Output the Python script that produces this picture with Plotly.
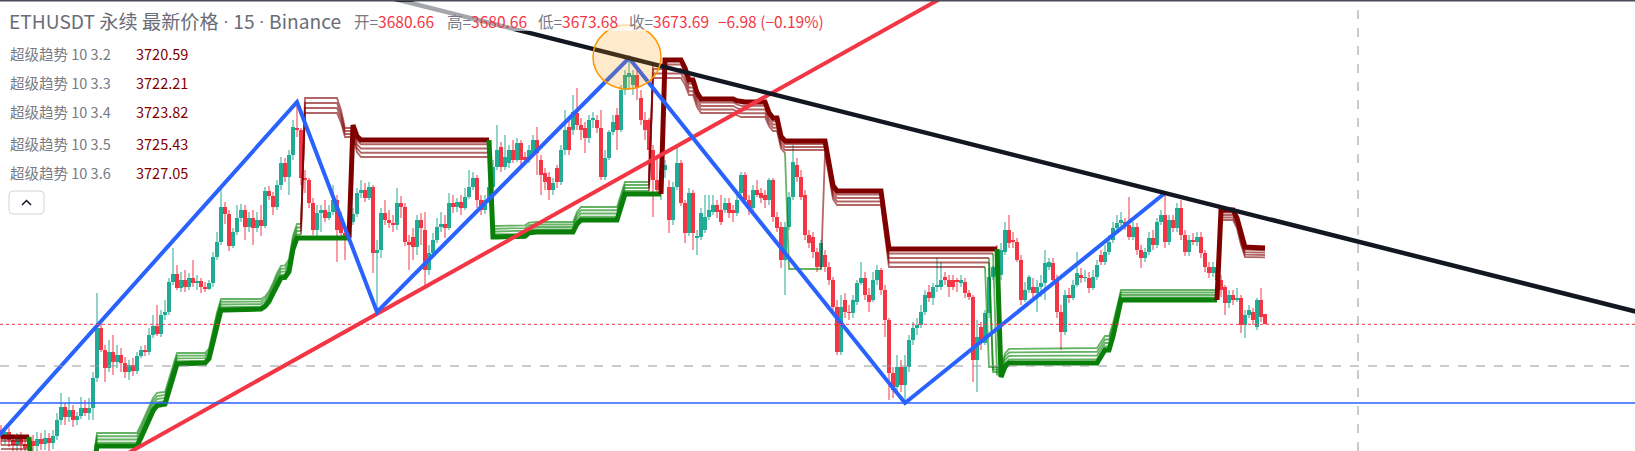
import numpy as np
import plotly.graph_objects as go

W, H = 1635, 451
X_RANGE = [-0.25, 408.5]
Y_RANGE = [3585.0, 3900.7]

# ---------------- candle data (15m ETHUSDT) ----------------
open_ = [
    3599.7, 3594.1, 3598.3, 3592.7, 3589.2, 3594.8, 3589.9, 3587.1, 3592.0, 3588.5,
    3593.4, 3589.9, 3594.1, 3590.6, 3595.5, 3606.7, 3615.8, 3608.8, 3613.7, 3606.7,
    3609.5, 3615.1, 3611.6, 3615.1, 3636.1, 3671.1, 3655.7, 3643.1, 3654.3, 3647.3,
    3652.2, 3646.6, 3640.3, 3645.2, 3641.0, 3651.5, 3655.7, 3654.3, 3666.2, 3672.5,
    3666.9, 3680.2, 3682.3, 3703.3, 3708.9, 3699.1, 3704.7, 3699.8, 3706.1, 3702.6,
    3704.0, 3699.8, 3698.4, 3702.6, 3720.8, 3731.3, 3755.8, 3750.9, 3728.5, 3738.3,
    3748.1, 3753.7, 3741.8, 3748.1, 3741.1, 3746.7, 3742.5, 3767.0, 3763.5, 3755.8,
    3771.2, 3786.6, 3776.8, 3792.2, 3811.1, 3809.7, 3776.1, 3774.7, 3758.6, 3739.7,
    3751.6, 3753.7, 3748.1, 3752.3, 3760.7, 3748.8, 3737.6, 3735.5, 3745.3, 3750.9,
    3765.6, 3767.7, 3762.1, 3769.8, 3723.6, 3725.7, 3751.6, 3746.7, 3744.6, 3743.2,
    3758.6, 3755.8, 3731.3, 3734.8, 3727.8, 3746.7, 3739.7, 3711.7, 3723.6, 3732.7,
    3741.8, 3743.9, 3741.1, 3758.6, 3755.8, 3759.3, 3755.1, 3762.8, 3769.8, 3776.1,
    3760.7, 3753.7, 3760.7, 3769.8, 3783.8, 3797.8, 3783.8, 3786.6, 3795.7, 3788.7,
    3800.6, 3790.8, 3788.7, 3793.6, 3802.7, 3788.7, 3779.6, 3776.8, 3767.7, 3783.1,
    3773.3, 3795.7, 3811.8, 3809.7, 3821.6, 3813.2, 3811.1, 3804.1, 3816.7, 3816.7,
    3811.1, 3776.8, 3790.1, 3808.3, 3820.2, 3809.7, 3837.7, 3846.8, 3841.2, 3848.2,
    3832.1, 3816.7, 3816.7, 3795.7, 3774.7, 3767.7, 3781.7, 3769.8, 3746.7, 3769.8,
    3786.6, 3758.6, 3737.6, 3765.6, 3734.1, 3734.8, 3739.7, 3748.8, 3752.3, 3757.2,
    3753.7, 3753.7, 3758.6, 3753.7, 3751.6, 3765.6, 3778.2, 3760.7, 3755.1, 3767.7,
    3765.6, 3764.2, 3760.7, 3774.7, 3748.8, 3741.8, 3718.7, 3741.8, 3762.8, 3785.2,
    3776.8, 3764.2, 3736.2, 3734.8, 3724.3, 3713.8, 3722.2, 3713.8, 3704.7, 3685.8,
    3654.3, 3690.7, 3682.3, 3681.6, 3689.3, 3702.6, 3706.1, 3694.2, 3690.7, 3704.7,
    3711.7, 3697.7, 3676.7, 3639.6, 3629.8, 3643.8, 3631.2, 3643.8, 3662.7, 3671.1,
    3673.2, 3682.3, 3696.3, 3692.1, 3699.8, 3699.8, 3706.8, 3704.7, 3704.7, 3704.7,
    3702.6, 3703.3, 3695.6, 3692.8, 3648.7, 3671.8, 3660.6, 3681.6, 3706.8, 3713.8,
    3708.2, 3724.3, 3739.7, 3732.7, 3731.3, 3718.7, 3690.7, 3697.7, 3699.8, 3695.6,
    3699.8, 3702.6, 3713.8, 3716.6, 3704.7, 3682.3, 3668.3, 3694.2, 3692.1, 3701.2,
    3708.2, 3706.1, 3706.1, 3699.1, 3706.8, 3722.2, 3717.3, 3724.3, 3732.7, 3741.1,
    3744.6, 3745.3, 3743.2, 3734.8, 3741.8, 3725.7, 3720.1, 3724.3, 3734.1, 3729.2,
    3745.3, 3750.2, 3731.3, 3746.7, 3741.1, 3755.1, 3736.2, 3724.3, 3732.7, 3731.3,
    3734.8, 3723.6, 3713.8, 3709.6, 3713.8, 3704.7, 3699.8, 3688.6, 3694.2, 3690.7,
    3692.1, 3673.2, 3680.2, 3682.3, 3671.8, 3690.7, 3680.66,
]
high = [
    3603.2, 3601.1, 3601.1, 3596.9, 3597.6, 3598.3, 3594.1, 3595.5, 3596.2, 3598.3,
    3597.6, 3599.7, 3597.6, 3599.7, 3611.6, 3625.6, 3618.6, 3622.8, 3617.2, 3612.3,
    3622.8, 3620.7, 3622.1, 3640.3, 3695.6, 3676.7, 3659.2, 3662.7, 3666.2, 3659.2,
    3657.1, 3650.8, 3648.7, 3650.1, 3654.3, 3658.5, 3659.2, 3671.1, 3680.2, 3687.2,
    3683.7, 3690.7, 3706.1, 3727.1, 3715.2, 3710.3, 3711.7, 3709.6, 3718.7, 3708.2,
    3706.1, 3703.3, 3704.7, 3724.3, 3738.3, 3770.5, 3759.3, 3753.7, 3741.1, 3757.2,
    3757.9, 3757.2, 3752.3, 3753.7, 3752.3, 3757.2, 3769.8, 3770.5, 3766.3, 3774.7,
    3790.8, 3790.1, 3795.7, 3816.7, 3829.3, 3811.1, 3781.7, 3776.1, 3762.1, 3757.2,
    3757.2, 3760.7, 3757.2, 3771.2, 3764.2, 3752.3, 3739.7, 3750.2, 3755.1, 3769.1,
    3774.7, 3772.6, 3773.3, 3771.2, 3732.7, 3755.1, 3760.7, 3753.7, 3750.2, 3769.1,
    3763.5, 3758.6, 3736.2, 3741.1, 3750.2, 3751.6, 3752.3, 3729.2, 3737.6, 3748.1,
    3752.3, 3750.2, 3765.6, 3764.2, 3762.1, 3764.2, 3769.1, 3781.7, 3780.3, 3778.2,
    3764.2, 3764.2, 3772.6, 3788.7, 3813.2, 3801.3, 3806.2, 3799.2, 3802.7, 3804.1,
    3802.7, 3794.3, 3799.2, 3806.2, 3811.8, 3792.2, 3783.1, 3780.3, 3776.1, 3785.2,
    3799.2, 3823.7, 3816.7, 3834.2, 3839.1, 3818.1, 3815.3, 3820.2, 3822.3, 3820.2,
    3823.7, 3795.7, 3809.7, 3820.2, 3825.1, 3841.2, 3851.7, 3860.1, 3851.7, 3853.1,
    3837.7, 3822.3, 3818.1, 3799.2, 3792.2, 3785.2, 3788.7, 3774.7, 3773.3, 3799.2,
    3788.7, 3760.7, 3769.1, 3767.7, 3739.7, 3755.1, 3764.2, 3764.2, 3764.2, 3760.7,
    3764.2, 3762.1, 3762.1, 3757.2, 3764.2, 3780.3, 3780.3, 3764.2, 3771.2, 3774.7,
    3769.1, 3767.7, 3776.1, 3776.1, 3752.3, 3745.3, 3745.3, 3766.3, 3799.2, 3790.1,
    3781.7, 3767.7, 3739.7, 3738.3, 3727.1, 3732.7, 3725.7, 3717.3, 3706.8, 3690.7,
    3694.2, 3695.6, 3687.2, 3694.2, 3704.7, 3717.3, 3710.3, 3699.1, 3710.3, 3715.2,
    3713.1, 3701.2, 3678.1, 3643.8, 3652.2, 3648.7, 3652.2, 3666.2, 3675.3, 3678.1,
    3687.2, 3697.7, 3701.2, 3702.6, 3720.1, 3717.3, 3710.3, 3708.2, 3708.2, 3706.1,
    3708.2, 3706.1, 3697.7, 3694.2, 3676.7, 3675.3, 3683.7, 3713.1, 3715.2, 3729.2,
    3730.6, 3745.3, 3750.2, 3738.3, 3734.1, 3722.2, 3703.3, 3708.2, 3706.1, 3704.7,
    3708.2, 3725.7, 3720.1, 3720.1, 3708.2, 3687.2, 3697.7, 3699.1, 3704.7, 3724.3,
    3713.1, 3711.7, 3710.3, 3711.7, 3718.7, 3725.7, 3729.2, 3736.2, 3745.3, 3750.2,
    3752.3, 3748.1, 3762.8, 3745.3, 3744.6, 3729.2, 3727.1, 3738.3, 3739.7, 3748.1,
    3753.7, 3765.6, 3750.2, 3750.2, 3758.6, 3760.7, 3739.7, 3736.2, 3737.6, 3738.3,
    3738.3, 3725.7, 3717.3, 3717.3, 3717.3, 3708.2, 3701.2, 3697.7, 3697.7, 3699.1,
    3694.2, 3683.7, 3687.2, 3685.1, 3692.1, 3699.1, 3680.66,
]
low = [
    3589.2, 3589.9, 3587.8, 3585.0, 3585.0, 3585.0, 3582.2, 3582.2, 3584.3, 3584.3,
    3585.7, 3585.7, 3585.0, 3586.4, 3592.7, 3603.2, 3603.2, 3605.3, 3601.8, 3603.2,
    3607.4, 3609.5, 3606.7, 3606.7, 3633.3, 3654.3, 3633.3, 3640.3, 3638.2, 3643.1,
    3640.3, 3636.1, 3634.7, 3637.5, 3638.9, 3650.1, 3651.5, 3652.2, 3664.1, 3665.5,
    3664.8, 3676.7, 3680.2, 3701.2, 3697.7, 3696.3, 3696.3, 3697.7, 3699.8, 3697.7,
    3695.6, 3696.3, 3697.7, 3699.8, 3718.7, 3729.2, 3743.9, 3725.0, 3727.1, 3736.2,
    3745.3, 3732.7, 3738.3, 3729.2, 3738.3, 3735.5, 3741.1, 3760.7, 3750.2, 3753.7,
    3767.7, 3773.3, 3764.2, 3788.7, 3804.8, 3771.2, 3765.6, 3755.1, 3736.2, 3734.1,
    3738.3, 3745.3, 3746.7, 3750.2, 3717.3, 3732.7, 3718.7, 3732.7, 3743.2, 3748.8,
    3762.1, 3759.3, 3760.7, 3709.6, 3682.3, 3720.1, 3743.2, 3741.1, 3738.3, 3739.7,
    3748.1, 3728.5, 3711.7, 3718.7, 3722.2, 3729.2, 3699.8, 3708.2, 3720.1, 3730.6,
    3738.3, 3734.1, 3739.7, 3751.6, 3752.3, 3750.2, 3753.7, 3761.4, 3767.7, 3755.1,
    3750.2, 3750.9, 3758.6, 3767.7, 3781.7, 3780.3, 3781.7, 3783.1, 3786.6, 3787.3,
    3785.2, 3786.6, 3786.6, 3792.2, 3778.2, 3764.2, 3767.7, 3760.7, 3764.2, 3769.1,
    3771.2, 3792.2, 3792.2, 3806.2, 3809.7, 3802.7, 3793.6, 3800.6, 3811.1, 3807.6,
    3774.7, 3774.7, 3788.7, 3806.2, 3795.7, 3808.3, 3834.2, 3837.7, 3834.2, 3830.7,
    3813.2, 3802.7, 3774.7, 3748.8, 3764.2, 3760.7, 3776.1, 3737.6, 3743.2, 3767.7,
    3756.5, 3730.6, 3735.5, 3725.7, 3722.2, 3732.7, 3737.6, 3746.7, 3750.2, 3748.1,
    3743.2, 3751.6, 3748.1, 3745.3, 3749.5, 3760.7, 3758.6, 3750.2, 3752.3, 3762.8,
    3758.6, 3755.1, 3757.2, 3745.3, 3738.3, 3713.1, 3694.2, 3739.7, 3760.7, 3773.3,
    3760.7, 3732.7, 3727.1, 3720.1, 3710.3, 3711.7, 3710.3, 3701.2, 3680.2, 3652.2,
    3652.2, 3678.1, 3676.7, 3678.1, 3687.2, 3701.2, 3690.7, 3682.3, 3689.3, 3701.2,
    3694.2, 3664.8, 3620.7, 3622.1, 3625.6, 3626.3, 3618.6, 3640.3, 3659.2, 3666.2,
    3671.1, 3680.2, 3689.3, 3687.2, 3696.3, 3697.7, 3701.2, 3692.8, 3697.7, 3696.3,
    3699.8, 3692.1, 3690.7, 3633.3, 3626.3, 3655.7, 3659.2, 3678.1, 3704.7, 3704.7,
    3704.7, 3722.2, 3727.1, 3727.1, 3717.3, 3687.2, 3689.3, 3695.6, 3692.1, 3682.3,
    3692.8, 3690.7, 3711.7, 3701.2, 3678.1, 3655.7, 3666.2, 3688.6, 3690.7, 3699.8,
    3702.6, 3703.3, 3695.6, 3697.7, 3704.7, 3715.2, 3715.2, 3722.2, 3730.6, 3738.3,
    3742.5, 3739.7, 3732.7, 3732.7, 3722.2, 3713.1, 3717.3, 3722.2, 3725.7, 3727.1,
    3743.2, 3727.1, 3729.2, 3738.3, 3738.3, 3732.7, 3721.5, 3721.5, 3729.2, 3728.5,
    3720.1, 3710.3, 3706.1, 3706.8, 3701.2, 3692.8, 3680.2, 3685.1, 3687.2, 3689.3,
    3667.6, 3664.1, 3678.1, 3673.2, 3669.7, 3675.3, 3673.68,
]
close = [
    3594.1, 3598.3, 3592.7, 3589.2, 3594.8, 3589.9, 3587.1, 3592.0, 3588.5, 3593.4,
    3589.9, 3594.1, 3590.6, 3595.5, 3606.7, 3615.8, 3608.8, 3613.7, 3606.7, 3609.5,
    3615.1, 3611.6, 3615.1, 3636.1, 3671.1, 3655.7, 3643.1, 3654.3, 3647.3, 3652.2,
    3646.6, 3640.3, 3645.2, 3641.0, 3651.5, 3655.7, 3654.3, 3666.2, 3672.5, 3666.9,
    3680.2, 3682.3, 3703.3, 3708.9, 3699.1, 3704.7, 3699.8, 3706.1, 3702.6, 3704.0,
    3699.8, 3698.4, 3702.6, 3720.8, 3731.3, 3755.8, 3750.9, 3728.5, 3738.3, 3748.1,
    3753.7, 3741.8, 3748.1, 3741.1, 3746.7, 3742.5, 3767.0, 3763.5, 3755.8, 3771.2,
    3786.6, 3776.8, 3792.2, 3811.8, 3809.7, 3776.1, 3774.7, 3758.6, 3739.7, 3751.6,
    3753.7, 3748.1, 3752.3, 3760.7, 3739.7, 3737.6, 3735.5, 3745.3, 3750.9, 3765.6,
    3767.7, 3762.1, 3769.8, 3723.6, 3725.7, 3751.6, 3746.7, 3744.6, 3743.2, 3758.6,
    3755.8, 3731.3, 3729.2, 3727.8, 3746.7, 3741.1, 3711.7, 3723.6, 3732.7, 3741.8,
    3743.9, 3741.1, 3758.6, 3755.8, 3759.3, 3755.1, 3762.8, 3769.8, 3776.1, 3760.7,
    3753.7, 3760.7, 3769.8, 3783.8, 3795.7, 3783.8, 3790.8, 3795.7, 3788.7, 3800.6,
    3788.7, 3788.7, 3795.7, 3802.7, 3793.6, 3778.2, 3773.3, 3767.7, 3772.6, 3773.3,
    3795.7, 3809.7, 3795.7, 3822.3, 3813.2, 3809.7, 3804.1, 3816.7, 3818.1, 3811.1,
    3776.8, 3790.1, 3808.3, 3815.3, 3809.7, 3837.7, 3848.2, 3849.6, 3848.2, 3839.1,
    3816.7, 3809.7, 3795.7, 3774.7, 3767.7, 3781.7, 3785.2, 3746.7, 3769.8, 3786.6,
    3758.6, 3737.6, 3765.6, 3737.6, 3735.5, 3751.6, 3748.8, 3753.7, 3757.2, 3752.3,
    3745.3, 3758.6, 3751.6, 3751.6, 3760.7, 3778.2, 3760.7, 3755.1, 3767.7, 3764.2,
    3762.1, 3760.7, 3774.7, 3748.8, 3741.1, 3718.7, 3741.8, 3762.8, 3787.3, 3776.8,
    3762.8, 3736.2, 3730.6, 3724.3, 3713.8, 3730.6, 3713.8, 3704.7, 3685.8, 3654.3,
    3685.8, 3682.3, 3681.6, 3690.7, 3702.6, 3706.1, 3694.2, 3689.3, 3704.7, 3711.7,
    3697.7, 3676.7, 3639.6, 3627.7, 3643.8, 3631.2, 3643.8, 3662.7, 3671.1, 3673.2,
    3682.3, 3694.2, 3692.1, 3699.8, 3701.2, 3704.7, 3704.7, 3699.8, 3699.8, 3703.3,
    3704.7, 3695.6, 3692.8, 3648.7, 3664.8, 3660.6, 3681.6, 3706.8, 3713.8, 3708.2,
    3725.7, 3739.7, 3730.6, 3731.3, 3718.7, 3690.7, 3697.7, 3706.8, 3695.6, 3699.8,
    3702.6, 3716.6, 3717.3, 3704.7, 3682.3, 3668.3, 3694.2, 3692.1, 3701.2, 3709.6,
    3706.1, 3706.8, 3699.1, 3706.8, 3715.2, 3717.3, 3724.3, 3731.3, 3741.1, 3744.6,
    3746.7, 3743.2, 3734.8, 3741.8, 3725.7, 3720.1, 3724.3, 3734.1, 3729.2, 3745.3,
    3750.2, 3731.3, 3746.7, 3741.1, 3755.1, 3736.2, 3724.3, 3732.7, 3731.3, 3734.8,
    3723.6, 3713.8, 3709.6, 3713.8, 3704.7, 3697.7, 3688.6, 3694.2, 3690.7, 3692.1,
    3673.2, 3680.2, 3683.7, 3676.7, 3690.7, 3678.8, 3673.69,
]
CHANGE, CHANGE_PCT = -6.98, -0.19

# ---------------- SuperTrend (ATR 10, multipliers 3.2 .. 3.6) ----------------
MULTS = [3.2, 3.3, 3.4, 3.5, 3.6]
ST_LAST = [3720.59, 3722.21, 3723.82, 3725.43, 3727.05]
RED_BAR = [-1, 7.75, 76, 84.5, 85.75, 88.25, 89.25, 122.75,
           163, 170.5, 171.75, 173, 174.5, 183, 184.75, 191, 192.5, 194, 195.25, 206,
           208.25, 220, 222, 250.25, 304.5, 308.5, 310.75, 316]
RED_36 = [3594.8, 3594.8, 3835.6, 3835.6, 3813.2, 3813.2, 3802.7, 3802.7,
          3858.7, 3858.7, 3844.7, 3844.7, 3831.4, 3831.4, 3829.3, 3829.3, 3818.1, 3818.1, 3802.0, 3802.0,
          3767.0, 3767.0, 3726.4, 3726.4, 3753.7, 3753.7, 3727.8, 3727.05]
RED_32 = [3583.6, 3583.6, 3821.6, 3821.6, 3804.8, 3804.8, 3790.8, 3790.8,
          3846.1, 3846.1, 3834.2, 3834.2, 3821.6, 3821.6, 3818.8, 3818.8, 3809.0, 3809.0, 3793.6, 3793.6,
          3757.2, 3757.2, 3713.8, 3713.8, 3746.7, 3746.7, 3720.8, 3720.59]
GRN_BAR = [7.75, 22.75, 23.5, 34, 36.75, 38.5, 41, 44, 51.75, 54.75, 65.5, 67.25, 69.75, 71.75, 73.5, 88.25,
           122.75, 130.75, 132.25, 143, 144.5, 154, 156, 166,
           196.75, 206.25,
           246.5, 250.25, 251.25, 274.5, 275.5, 277.25, 280, 304.5]
GRN_36 = [3557.7, 3557.7, 3588.5, 3588.5, 3604.6, 3616.5, 3617.9, 3645.9, 3646.6, 3683.7, 3684.4, 3690.7,
          3706.1, 3706.8, 3734.1, 3734.1,
          3734.8, 3734.8, 3738.3, 3738.3, 3746.7, 3746.7, 3764.9, 3764.9,
          3704.7, 3704.7,
          3636.8, 3636.8, 3646.6, 3646.6, 3655.7, 3655.7, 3690.7, 3690.7]
GRN_32 = [3566.1, 3566.1, 3597.6, 3597.6, 3613.7, 3625.6, 3626.3, 3653.6, 3653.6, 3691.4, 3691.4, 3697.7,
          3714.5, 3715.2, 3743.9, 3743.9,
          3742.5, 3742.5, 3745.3, 3745.3, 3755.8, 3755.8, 3773.3, 3773.3,
          3712.4, 3712.4,
          3643.8, 3643.8, 3656.4, 3657.1, 3665.5, 3665.5, 3697.7, 3697.7]
FLIPS = {
    3.2: [8, 76, 123, 163, 197, 206, 247, 305],
    3.3: [8, 76, 123, 163, 248, 305],
    3.4: [8, 76, 123, 163, 248, 305],
    3.5: [8, 76, 123, 163, 249, 305],
    3.6: [8, 88, 123, 166, 250, 305],
}

# ---------------- drawings ----------------
ZIG_BAR = [-10, 74, 94, 157, 226, 291]
ZIG_PRICE = [3566.1, 3829.3, 3682.3, 3860.1, 3618.6, 3765.6]
RED_TL_BAR = [94, 234]
RED_TL_PRICE = [3681.0, 3900.3]
HLINE_PRICE = 3618.6
CROSS_BAR, CROSS_PRICE = 339.25, 3644.5

n = min(len(open_), len(high), len(low), len(close))
bars = list(range(n))

UP_COL, DN_COL = "#22ab94", "#f23645"
fig = go.Figure()

is_up = [close[i] >= open_[i] for i in range(n)]
for flag, col in ((True, UP_COL), (False, DN_COL)):
    xs, ys = [], []
    for i in range(n):
        if is_up[i] == flag:
            xs += [i, i, None]
            ys += [low[i], high[i], None]
    fig.add_trace(go.Scatter(x=xs, y=ys, mode="lines", line=dict(color=col, width=1),
                             hoverinfo="skip", showlegend=False))

fig.add_trace(go.Bar(
    x=bars,
    y=[max(abs(close[i] - open_[i]), 0.4) for i in range(n)],
    base=[min(close[i], open_[i]) for i in range(n)],
    width=0.8,
    marker=dict(color=[UP_COL if u else DN_COL for u in is_up], line=dict(width=0)),
    hoverinfo="skip", showlegend=False))


def st_value(up, m, b):
    if up:
        kb, k36, k32 = GRN_BAR, GRN_36, GRN_32
    else:
        kb, k36, k32 = RED_BAR, RED_36, RED_32
    v36 = float(np.interp(b, kb, k36))
    v32 = float(np.interp(b, kb, k32))
    return v32 + (m - 3.2) / 0.4 * (v36 - v32)


for m in MULTS:
    thick = (m == 3.6)
    bounds = [0] + FLIPS[m] + [n]
    for k in range(len(bounds) - 1):
        s, e = bounds[k], bounds[k + 1]
        up = (k % 2 == 1)
        xs = list(range(s, e))
        ys = [st_value(up, m, b) for b in xs]
        if s > 0:
            xs = [s - 1] + xs
            ys = [st_value(not up, m, s - 1)] + ys
        if up:
            col = "#0a800a" if thick else "rgba(0,128,0,0.6)"
        else:
            col = "#800000" if thick else "rgba(128,0,0,0.6)"
        fig.add_trace(go.Scatter(x=xs, y=ys, mode="lines",
                                 line=dict(color=col, width=5 if thick else 1.8),
                                 hoverinfo="skip", showlegend=False))

slope_r = (RED_TL_PRICE[1] - RED_TL_PRICE[0]) / (RED_TL_BAR[1] - RED_TL_BAR[0])
rx = [20, 280]
ry = [RED_TL_PRICE[0] + slope_r * (x - RED_TL_BAR[0]) for x in rx]
fig.add_trace(go.Scatter(x=rx, y=ry, mode="lines", line=dict(color="#f23645", width=4),
                         hoverinfo="skip", showlegend=False))

fig.add_trace(go.Scatter(x=ZIG_BAR, y=ZIG_PRICE, mode="lines", line=dict(color="#2962ff", width=4),
                         hoverinfo="skip", showlegend=False))

slope_b = (ZIG_PRICE[5] - ZIG_PRICE[3]) / (ZIG_BAR[5] - ZIG_BAR[3])
bx = [90, 420]
by = [ZIG_PRICE[3] + slope_b * (x - ZIG_BAR[3]) for x in bx]
fig.add_trace(go.Scatter(x=bx, y=by, mode="lines", line=dict(color="#131722", width=4.5),
                         hoverinfo="skip", showlegend=False))


def px(x):
    return x / W


def py(y):
    return 1 - y / H


shapes = [
    dict(type="line", xref="paper", yref="y", x0=0, x1=1, y0=HLINE_PRICE, y1=HLINE_PRICE,
         line=dict(color="#2962ff", width=1.5), layer="above"),
    dict(type="line", xref="paper", yref="y", x0=0, x1=1, y0=close[-1], y1=close[-1],
         line=dict(color="#f23645", width=1, dash="dot"), layer="above"),
    dict(type="line", xref="paper", yref="y", x0=0, x1=1, y0=CROSS_PRICE, y1=CROSS_PRICE,
         line=dict(color="#9598a1", width=1, dash="dash"), layer="above"),
    dict(type="line", xref="x", yref="paper", x0=CROSS_BAR, x1=CROSS_BAR, y0=0, y1=1,
         line=dict(color="#9598a1", width=1, dash="dash"), layer="above"),
    dict(type="circle", xref="x", yref="y", x0=148, x1=165, y0=3838.4, y1=3883.2,
         fillcolor="rgba(255,152,0,0.2)", line=dict(color="#ff9800", width=1.5), layer="above"),
    dict(type="rect", xref="paper", yref="paper", x0=0, x1=px(830), y0=py(31), y1=py(2),
         fillcolor="rgba(255,255,255,0.62)", line=dict(width=0), layer="above"),
    dict(type="line", xref="paper", yref="paper", x0=0, x1=1, y0=py(0.7), y1=py(0.7),
         line=dict(color="#4a4d57", width=1.5), layer="above"),
]

bx0, bx1, by0, by1, r = 9, 44, 191, 214, 4
path = (f"M {px(bx0 + r)},{py(by0)} L {px(bx1 - r)},{py(by0)} Q {px(bx1)},{py(by0)} {px(bx1)},{py(by0 + r)} "
        f"L {px(bx1)},{py(by1 - r)} Q {px(bx1)},{py(by1)} {px(bx1 - r)},{py(by1)} "
        f"L {px(bx0 + r)},{py(by1)} Q {px(bx0)},{py(by1)} {px(bx0)},{py(by1 - r)} "
        f"L {px(bx0)},{py(by0 + r)} Q {px(bx0)},{py(by0)} {px(bx0 + r)},{py(by0)} Z")
shapes.append(dict(type="path", xref="paper", yref="paper", path=path,
                   fillcolor="rgba(255,255,255,0.9)", line=dict(color="#d1d4dc", width=1), layer="above"))
chev = f"M {px(22)},{py(205)} L {px(26.5)},{py(200.5)} L {px(31)},{py(205)}"
shapes.append(dict(type="path", xref="paper", yref="paper", path=chev,
                   line=dict(color="#131722", width=1.5), layer="above"))

FONT = "'Noto Sans CJK SC', 'Noto Sans', sans-serif"
GRAY = "#787b86"
RED = "#f23645"
ann = []


def add_text(x, y, text, size, color=GRAY):
    ann.append(dict(xref="paper", yref="paper", x=px(x), y=py(y), xanchor="left", yanchor="middle",
                    align="left", text=text, showarrow=False,
                    font=dict(family=FONT, size=size, color=color)))


DOT = "<span style='font-family:Roboto'> · </span>"
add_text(7, 21, f"ETHUSDT 永续 最新价格{DOT}15{DOT}Binance", 19.2, "#6a6d78")
ohlc_labels = ["开", "高", "低", "收"]
ohlc_vals = [open_[-1], high[-1], low[-1], close[-1]]
ohlc_x = [352, 445, 536, 627]
for lab, val, x in zip(ohlc_labels, ohlc_vals, ohlc_x):
    add_text(x, 21, f"{lab}=<span style='color:{RED}'>{val:.2f}</span>", 15.5)
add_text(716, 21, f"{CHANGE:+.2f} ({CHANGE_PCT:+.2f}%)".replace("-", "−"), 15.5, RED)

row_y = [53, 82, 112, 143, 173]
for m, v, y in zip(MULTS, ST_LAST, row_y):
    add_text(8, y, f"超级趋势 10 {m}", 14.5)
    add_text(134, y, f"{v:.2f}", 14.5, "#800000")

fig.update_layout(
    width=W, height=H,
    margin=dict(l=0, r=0, t=0, b=0),
    paper_bgcolor="white", plot_bgcolor="white",
    showlegend=False, bargap=0,
    xaxis=dict(range=X_RANGE, visible=False, showgrid=False, zeroline=False, fixedrange=True),
    yaxis=dict(range=Y_RANGE, visible=False, showgrid=False, zeroline=False, fixedrange=True),
    shapes=shapes, annotations=ann,
    hovermode=False,
)

fig.write_html("out.html", config={"displayModeBar": False},
               post_script="document.body.style.margin='0px';document.body.style.overflow='hidden';")
